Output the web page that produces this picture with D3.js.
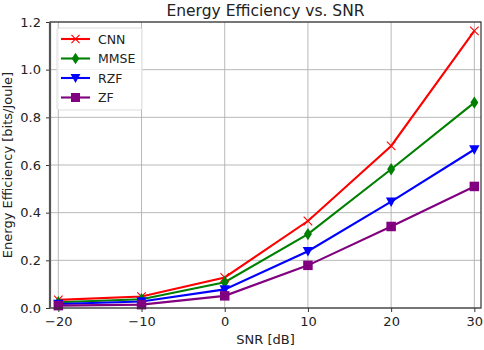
<!DOCTYPE html>
<html>
<head>
<meta charset="utf-8">
<script src="https://cdn.jsdelivr.net/npm/d3@7"></script>
<style>
  body { margin: 0; background: #fff; }
  svg { display: block; font-family: "DejaVu Sans", sans-serif; }
</style>
</head>
<body>
<svg id="chart"></svg>
<script>
// data
const snr = [-20, -10, 0, 10, 20, 30];
const seriesNames = ["CNN", "MMSE", "RZF", "ZF"];
const cnnVals = [0.034, 0.048, 0.128, 0.365, 0.68, 1.163];
const mmseVals = [0.024, 0.037, 0.108, 0.31, 0.582, 0.862];
const rzfVals = [0.017, 0.027, 0.078, 0.238, 0.446, 0.665];
const zfVals = [0.010, 0.014, 0.051, 0.179, 0.342, 0.51];
const xTicks = [-20, -10, 0, 10, 20, 30];
const yTicks = [0, 0.2, 0.4, 0.6, 0.8, 1.0, 1.2];

const width = 484, height = 350;
const margin = { top: 22, right: 3, bottom: 42, left: 50 };

const svg = d3.select("#chart").attr("width", width).attr("height", height);

const x = d3.scaleLinear().domain([-21, 30.8]).range([margin.left, width - margin.right]);
const y = d3.scaleLinear().domain([0, 1.2]).range([height - margin.bottom, margin.top]);

const series = [
  { name: "CNN", values: cnnVals, color: "#ff0000", marker: "x" },
  { name: "MMSE", values: mmseVals, color: "#008000", marker: "diamond" },
  { name: "RZF", values: rzfVals, color: "#0000ff", marker: "tri" },
  { name: "ZF", values: zfVals, color: "#800080", marker: "square" }
];

// grid
const grid = svg.append("g").attr("stroke", "#b0b0b0").attr("stroke-width", 0.9);
grid.selectAll(".gx").data(xTicks).join("line")
  .attr("x1", d => x(d)).attr("x2", d => x(d))
  .attr("y1", y(1.2)).attr("y2", y(0));
grid.selectAll(".gy").data(yTicks).join("line")
  .attr("x1", x.range()[0]).attr("x2", x.range()[1])
  .attr("y1", d => y(d)).attr("y2", d => y(d));

// lines
const line = d3.line().x((d, i) => x(snr[i])).y(d => y(d));
series.forEach(s => {
  svg.append("path")
    .datum(s.values)
    .attr("fill", "none")
    .attr("stroke", s.color)
    .attr("stroke-width", 2.1)
    .attr("d", line);
});

// markers
function drawMarker(g, type, color, size) {
  if (type === "x") {
    const r = size * 0.45;
    g.append("path").attr("d", `M${-r},${-r}L${r},${r}M${-r},${r}L${r},${-r}`)
      .attr("stroke", color).attr("stroke-width", 1.1).attr("fill", "none");
  } else if (type === "diamond") {
    g.append("path").attr("d", `M0,${-size * 0.65}L${size * 0.42},0L0,${size * 0.65}L${-size * 0.42},0Z`)
      .attr("fill", color);
  } else if (type === "tri") {
    g.append("path").attr("d", `M${-size * 0.55},${-size * 0.45}L${size * 0.55},${-size * 0.45}L0,${size * 0.55}Z`)
      .attr("fill", color);
  } else {
    g.append("rect").attr("x", -size / 2).attr("y", -size / 2)
      .attr("width", size).attr("height", size).attr("fill", color);
  }
}
series.forEach(s => {
  s.values.forEach((v, i) => {
    const g = svg.append("g").attr("transform", `translate(${x(snr[i])},${y(v)})`);
    drawMarker(g, s.marker, s.color, 9.5);
  });
});

// frame
svg.append("rect")
  .attr("x", x.range()[0]).attr("y", y(1.2))
  .attr("width", x.range()[1] - x.range()[0]).attr("height", y(0) - y(1.2))
  .attr("fill", "none").attr("stroke", "#333").attr("stroke-width", 1.2);

// axes
const xAxis = svg.append("g").attr("transform", `translate(0,${y(0)})`)
  .call(d3.axisBottom(x).tickValues(xTicks).tickSize(4).tickPadding(5).tickFormat(d => d < 0 ? "\u2212" + Math.abs(d) : d));
const yAxis = svg.append("g").attr("transform", `translate(${x.range()[0]},0)`)
  .call(d3.axisLeft(y).tickValues(yTicks).tickSize(4).tickPadding(5).tickFormat(d3.format(".1f")));
[xAxis, yAxis].forEach(a => {
  a.select(".domain").remove();
  a.selectAll("line").attr("stroke", "#333");
  a.selectAll("text").attr("fill", "#222").style("font-size", "13px").style("font-family", "DejaVu Sans");
});
svg.append("line").attr("x1", x.range()[0]).attr("x2", x.range()[0])
  .attr("y1", y(1.2)).attr("y2", y(0)).attr("stroke", "#555").attr("stroke-width", 2.2);

// title and labels
svg.append("text").attr("x", (x.range()[0] + x.range()[1]) / 2).attr("y", 16)
  .attr("text-anchor", "middle").style("font-size", "15.5px").attr("fill", "#222")
  .text("Energy Efficiency vs. SNR");
svg.append("text").attr("x", (x.range()[0] + x.range()[1]) / 2).attr("y", 344)
  .attr("text-anchor", "middle").style("font-size", "13px").attr("fill", "#222")
  .text("SNR [dB]");
svg.append("text")
  .attr("transform", `translate(12,${(y(0) + y(1.2)) / 2}) rotate(-90)`)
  .attr("text-anchor", "middle").style("font-size", "13px").attr("fill", "#222")
  .text("Energy Efficiency [bits/Joule]");

// legend
const legend = svg.append("g").attr("transform", "translate(57,28)");
legend.append("rect").attr("width", 85).attr("height", 82).attr("rx", 2)
  .attr("fill", "#fff").attr("fill-opacity", 0.8).attr("stroke", "#ddd");
series.forEach((s, i) => {
  const row = legend.append("g").attr("transform", `translate(0,${11 + i * 19.5})`);
  row.append("line").attr("x1", 4).attr("x2", 33).attr("stroke", s.color).attr("stroke-width", 2.1);
  const m = row.append("g").attr("transform", "translate(18.5,0)");
  drawMarker(m, s.marker, s.color, 9);
  row.append("text").attr("x", 41).attr("y", 4.5).style("font-size", "12.5px").attr("fill", "#222").text(s.name);
});
</script>
</body>
</html>
